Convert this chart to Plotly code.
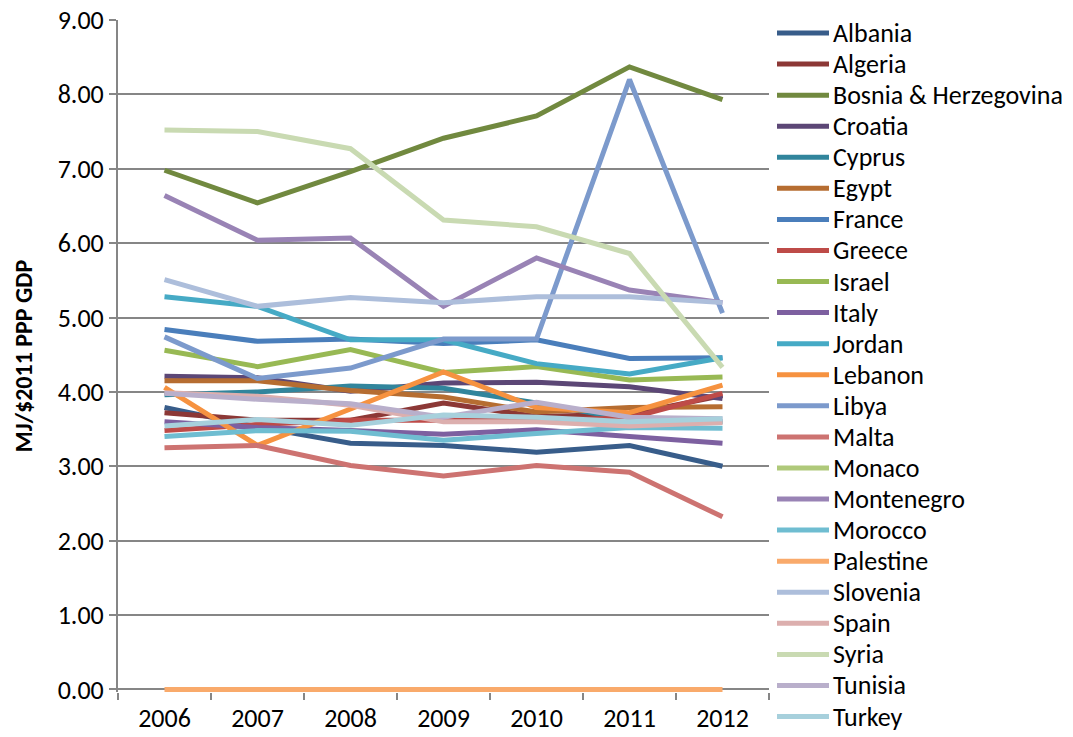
import plotly.graph_objects as go

years = ["2006", "2007", "2008", "2009", "2010", "2011", "2012"]

countries = [
    "Albania", "Algeria", "Bosnia & Herzegovina", "Croatia", "Cyprus", "Egypt",
    "France", "Greece", "Israel", "Italy", "Jordan", "Lebanon", "Libya", "Malta",
    "Monaco", "Montenegro", "Morocco", "Palestine", "Slovenia", "Spain", "Syria",
    "Tunisia", "Turkey",
]

albania = [3.79, 3.53, 3.31, 3.28, 3.19, 3.28, 3.00]
algeria = [3.72, 3.62, 3.62, 3.85, 3.67, 3.70, 3.95]
bosnia = [6.98, 6.54, 6.96, 7.41, 7.71, 8.37, 7.93]
croatia = [4.21, 4.19, 4.01, 4.12, 4.13, 4.07, 3.91]
cyprus = [3.96, 4.00, 4.08, 4.05, 3.85, 3.63, 3.60]
egypt = [4.15, 4.15, 4.02, 3.93, 3.73, 3.79, 3.80]
france = [4.84, 4.68, 4.71, 4.65, 4.70, 4.45, 4.46]
greece = [3.48, 3.56, 3.62, 3.62, 3.62, 3.65, 3.98]
israel = [4.56, 4.34, 4.57, 4.26, 4.34, 4.16, 4.20]
italy = [3.60, 3.52, 3.48, 3.43, 3.49, 3.40, 3.31]
jordan = [5.28, 5.15, 4.70, 4.70, 4.38, 4.24, 4.46]
lebanon = [4.06, 3.28, 3.77, 4.27, 3.79, 3.72, 4.09]
libya = [4.74, 4.18, 4.32, 4.71, 4.71, 8.20, 5.06]
malta = [3.25, 3.28, 3.01, 2.87, 3.01, 2.92, 2.32]
monaco = [None, None, None, None, None, None, None]
montenegro = [6.64, 6.04, 6.07, 5.15, 5.80, 5.37, 5.20]
morocco = [3.40, 3.48, 3.47, 3.35, 3.44, 3.52, 3.51]
palestine = [0.0, 0.0, 0.0, 0.0, 0.0, 0.0, 0.0]
slovenia = [5.51, 5.15, 5.27, 5.20, 5.28, 5.28, 5.20]
spain = [3.99, 3.94, 3.82, 3.60, 3.60, 3.54, 3.59]
syria = [7.52, 7.50, 7.27, 6.31, 6.22, 5.86, 4.33]
tunisia = [3.98, 3.90, 3.84, 3.66, 3.86, 3.66, 3.64]
turkey = [3.54, 3.63, 3.55, 3.69, 3.66, 3.60, 3.64]

series = [
    albania, algeria, bosnia, croatia, cyprus, egypt, france, greece, israel,
    italy, jordan, lebanon, libya, malta, monaco, montenegro, morocco,
    palestine, slovenia, spain, syria, tunisia, turkey,
]

colors = [
    "#385D8A", "#8C3836", "#71893F", "#5C4776", "#31859C", "#B66D31",
    "#4A7EBB", "#BE4B48", "#98B954", "#7D60A0", "#46AAC5", "#F69240",
    "#7C9ACC", "#CD7371", "#AFC97A", "#9983B5", "#6FBDD1", "#F9AA6B",
    "#ADBEDB", "#DCAFAE", "#C9DAB2", "#B9AFCB", "#A7D0DC",
]

# figure geometry (pixels)
W, H = 1073, 737
ML, MR, MT, MB = 118, 304, 20, 45.4
plot_w = W - ML - MR
plot_h = H - MT - MB


def px_to_paper_x(px):
    return (px - ML) / plot_w


def px_to_paper_y(py):
    return (H - MB - py) / plot_h


fig = go.Figure()
for name, vals, col in zip(countries, series, colors):
    fig.add_trace(go.Scatter(
        x=years, y=vals, name=name, mode="lines",
        line=dict(color=col, width=5),
        showlegend=False,
    ))

# legend drawn as a column of line keys and labels to the right of the plot
fonts = "Carlito, Calibri, Lato, sans-serif"
leg_top, leg_step = 33.0, 31.05
shapes, annotations = [], []
for i, (name, col) in enumerate(zip(countries, colors)):
    yc = px_to_paper_y(leg_top + i * leg_step)
    shapes.append(dict(
        type="line", xref="paper", yref="paper",
        x0=px_to_paper_x(777), x1=px_to_paper_x(829), y0=yc, y1=yc,
        line=dict(color=col, width=5),
    ))
    annotations.append(dict(
        xref="paper", yref="paper", x=px_to_paper_x(831), y=yc,
        xanchor="left", yanchor="middle", text=name, showarrow=False,
        font=dict(family=fonts, size=26, color="black"),
    ))

grid_col = "#868686"
fig.update_layout(
    width=W, height=H,
    margin=dict(l=ML, r=MR, t=MT, b=MB),
    paper_bgcolor="white", plot_bgcolor="white",
    font=dict(family=fonts, size=26, color="black"),
    showlegend=False,
    shapes=shapes,
    annotations=annotations,
    xaxis=dict(
        type="category", range=[-0.5, 6.5],
        showgrid=False, showline=False,
        ticks="outside", tickson="boundaries", ticklen=7, tickcolor=grid_col,
        tickwidth=2, tickfont=dict(size=26), fixedrange=True, automargin=False,
        ticklabelstandoff=8,
    ),
    yaxis=dict(
        range=[-0.035, 9], tickvals=[0, 1, 2, 3, 4, 5, 6, 7, 8, 9],
        tickformat=".2f",
        showgrid=True, gridcolor=grid_col, gridwidth=2,
        showline=True, linecolor=grid_col, linewidth=2,
        ticks="outside", ticklen=7, tickcolor=grid_col, tickwidth=2,
        zeroline=False, tickfont=dict(size=26), automargin=False,
        title=dict(text="<b>MJ/$2011 PPP GDP</b>", font=dict(size=24), standoff=18),
    ),
)

fig.write_html("out.html")
